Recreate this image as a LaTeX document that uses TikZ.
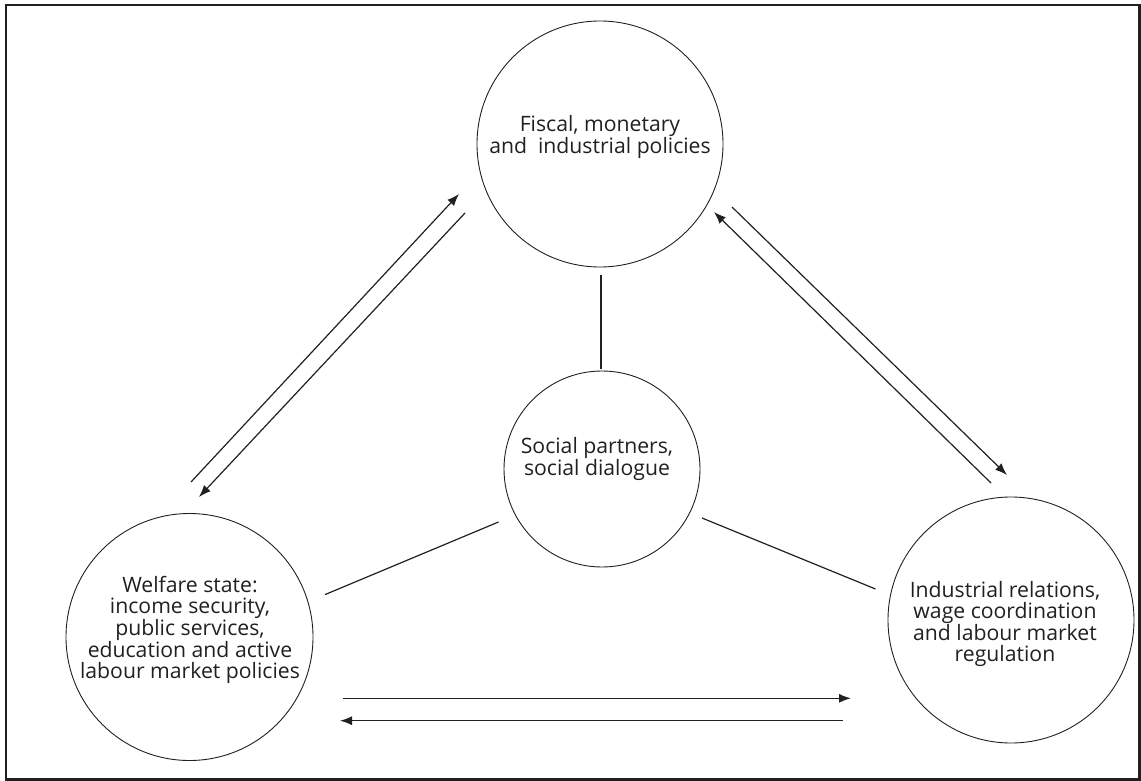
\documentclass[tikz,border=0pt]{standalone}
\usepackage{fontspec}
\setmainfont{Open Sans}
\usetikzlibrary{arrows.meta,calc}
\definecolor{ink}{HTML}{231F20}
\begin{document}
\begin{tikzpicture}[x=1pt,y=-1pt,
  bubble/.style={draw=ink,circle,line width=0.9pt,inner sep=0pt},
  txt/.style={text=ink,align=center,font=\fontsize{21.2}{20.8}\selectfont,inner sep=0pt},
  link/.style={draw=ink,line width=1.2pt},
  flow/.style={draw=ink,line width=1.2pt,-{Latex[length=12pt,width=9pt]}}]
\useasboundingbox (0,0) rectangle (1141,781);
\begin{scope}
\clip (0,0) rectangle (1141,781);
\draw[draw=ink,line width=2.4pt] (6,5) rectangle (1139.5,779.5);
\end{scope}
% circles
\node[bubble,minimum size=246pt] (top) at (600,144) {};
\node[bubble,minimum size=196pt] (mid) at (602,469) {};
\node[bubble,minimum size=247pt] (left) at (189.5,637) {};
\node[bubble,minimum size=246pt] (right) at (1011,620) {};
% texts
\node[txt] (ttop) at (600,137) {Fiscal, monetary\\and\ \ industrial policies};
\node[txt] (tmid) at (597,459) {Social partners,\\social dialogue};
\node[txt] (tleft) at (190,630) {Welfare state:\\income security,\\public services,\\education and active\\labour market policies};
\node[txt] (tright) at (1005,624) {Industrial relations,\\wage coordination\\and labour market\\regulation};
% connector end points
\coordinate (tm1) at (601,275); \coordinate (tm2) at (601,369);
\coordinate (ml1) at (498.5,522); \coordinate (ml2) at (325,594.6);
\coordinate (mr1) at (702,518); \coordinate (mr2) at (875.5,589);
\coordinate (la1) at (191,482); \coordinate (la2) at (459,194);
\coordinate (lb1) at (465,213); \coordinate (lb2) at (199,497);
\coordinate (ra1) at (991,483); \coordinate (ra2) at (714,212);
\coordinate (rb1) at (732,207); \coordinate (rb2) at (1007,475);
\coordinate (ba1) at (343,698.3); \coordinate (ba2) at (851,698.3);
\coordinate (bb1) at (843,720.7); \coordinate (bb2) at (340,720.7);
% undirected links
\draw[link] (tm1) -- (tm2);
\draw[link] (ml1) -- (ml2);
\draw[link] (mr1) -- (mr2);
% arrows
\draw[flow] (la1) -- (la2);
\draw[flow] (lb1) -- (lb2);
\draw[flow] (ra1) -- (ra2);
\draw[flow] (rb1) -- (rb2);
\draw[flow] (ba1) -- (ba2);
\draw[flow] (bb1) -- (bb2);
\end{tikzpicture}
\end{document}
